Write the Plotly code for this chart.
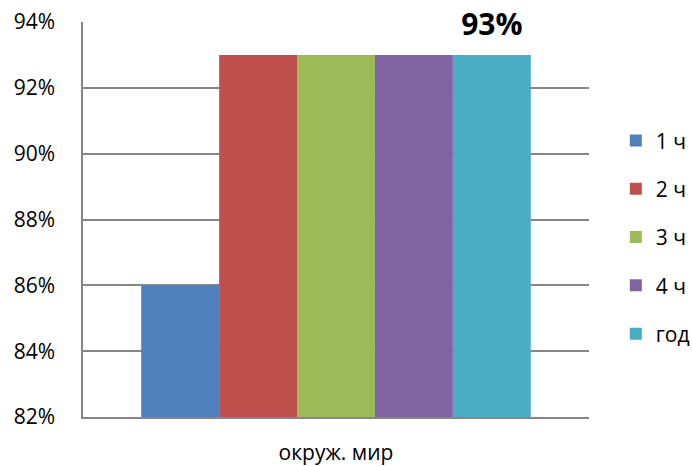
import plotly.graph_objects as go

categories = ["окруж. мир"]
series_names = ["1 ч", "2 ч", "3 ч", "4 ч", "год"]
series_values = [[86], [93], [93], [93], [93]]
series_colors = ["#4F81BD", "#C0504D", "#9BBB59", "#8064A2", "#4BACC6"]
labelled_series = "год"
tick_values = [82, 84, 86, 88, 90, 92, 94]
tick_labels = [f"{v}%" for v in tick_values]

FONT = "Open Sans"

fig = go.Figure()
for name, vals, col in zip(series_names, series_values, series_colors):
    show = name == labelled_series
    fig.add_trace(go.Bar(
        x=categories, y=vals, name=name, legendgroup=name,
        marker=dict(color=col, line=dict(width=0)),
        text=[f"{v}%" for v in vals] if show else None,
        texttemplate="<span style='font-size:30px'>%{text}</span><br> " if show else None,
        textposition="outside" if show else None,
        textfont=dict(family=FONT, size=11, color="#000000", weight="bold"),
        cliponaxis=False,
    ))

fig.update_layout(
    width=692, height=466,
    margin=dict(l=83, r=103, t=22, b=49, autoexpand=False),
    paper_bgcolor="white", plot_bgcolor="white",
    barmode="group", bargap=0.23, bargroupgap=0,
    font=dict(family=FONT, size=21, color="#000000"),
    showlegend=True,
    legend=dict(x=1.053, y=0.455, xanchor="left", yanchor="middle",
                font=dict(family=FONT, size=21), tracegroupgap=18,
                itemwidth=30, traceorder="grouped"),
)
fig.update_yaxes(range=[82, 94], tickvals=tick_values, ticktext=tick_labels,
                 automargin=False, ticklabelstandoff=22,
                 showgrid=True, gridcolor="#868686", gridwidth=1.5,
                 showline=True, linecolor="#868686", linewidth=1.5,
                 zeroline=False, ticks="", ticklen=0,
                 tickfont=dict(family=FONT, size=21))
fig.update_xaxes(showgrid=False, showline=True, linecolor="#868686", linewidth=1.5,
                 automargin=False, ticklabelstandoff=16,
                 ticks="", tickfont=dict(family=FONT, size=21))

fig.write_html("out.html", config={"displayModeBar": False},
               post_script="document.body.style.margin='0px';")
